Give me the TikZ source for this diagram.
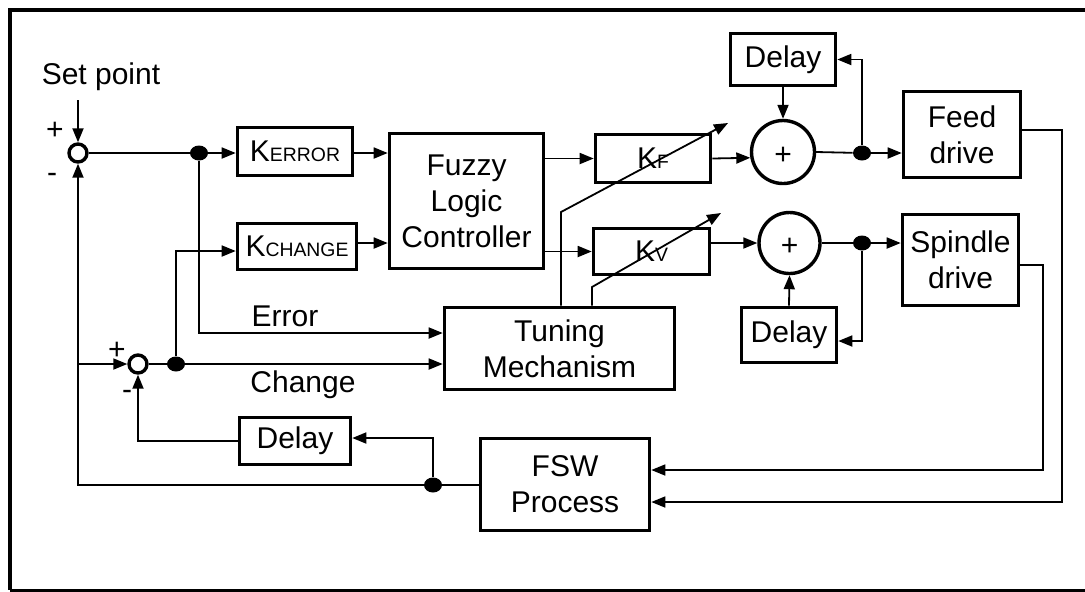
\documentclass[tikz,border=0pt]{standalone}
\usepackage{fontspec}
\setmainfont{Liberation Sans}
\usetikzlibrary{arrows.meta,shapes.geometric}
% small-caps style subscript for the gain names
\newcommand\kidx[1]{{\fontsize{9.7}{11}\selectfont #1}}
\begin{document}
\begin{tikzpicture}[x=0.5pt,y=-0.5pt,
  font=\fontsize{15}{18}\selectfont,
  blk/.style={draw,line width=1.8pt,inner sep=0pt,align=center},
  sumc/.style={draw,circle,line width=1.7pt,inner sep=0pt},
  dot/.style={fill,ellipse,inner sep=0pt,minimum width=9pt,minimum height=7.5pt},
  wire/.style={line width=0.9pt},
  arr/.style={wire,-{Triangle[length=7pt,width=5.5pt]}}]
\useasboundingbox (0,0) rectangle (1085,591);

% frame
\draw[line width=2pt] (1085,10) -- (10,10) -- (10,590);
\draw[line width=1.5pt] (10,590) -- (1085,590);

% blocks
\node[blk,minimum width=57.5pt,minimum height=24pt] (ke) at (295,151.5) {K\kidx{ERROR}};
\node[blk,minimum width=59.5pt,minimum height=23pt] (kc) at (297,246.5) {K\kidx{CHANGE}};
\node[blk,minimum width=77pt,minimum height=67.5pt] (flc) at (466.5,201) {Fuzzy\\Logic\\Controller};
\node[blk,minimum width=57.5pt,minimum height=24pt] (kf) at (653,158.5) {K\kidx{F}};
\node[blk,minimum width=58pt,minimum height=23pt] (kv) at (651.5,251.5) {K\kidx{V}};
\node[blk,minimum width=115pt,minimum height=41pt] (tm) at (559.5,348.5) {Tuning\\Mechanism};
\node[blk,minimum width=52.5pt,minimum height=26pt] (d1) at (783,59.5) {Delay};
\node[blk,minimum width=58.5pt,minimum height=43pt] (fd) at (962,134.5) {Feed\\drive};
\node[blk,minimum width=58pt,minimum height=45.5pt] (sd) at (960.5,260) {Spindle\\drive};
\node[blk,minimum width=47.5pt,minimum height=27.5pt] (d2) at (789,335) {Delay};
\node[blk,minimum width=55.5pt,minimum height=23.5pt] (d3) at (295,441) {Delay};
\node[blk,minimum width=84.5pt,minimum height=46pt] (fsw) at (565,484.5) {FSW\\Process};

% summing junctions
\node[sumc,minimum size=9pt] (s1) at (78,153) {};
\node[sumc,minimum size=9pt] (s2) at (138,364) {};
\node[sumc,minimum size=31.5pt] (p1) at (783,152) {};
\node[sumc,minimum size=30.5pt] (p2) at (789.5,243) {};
\node (p1sign) at (783,156) {+};
\node (p2sign) at (789.5,247) {+};

% branch points
\node[dot] (dA) at (199,153) {};
\node[dot] (dB) at (176,364) {};
\node[dot] (dC) at (862,153) {};
\node[dot] (dD) at (862,243) {};
\node[dot] (dE) at (433,485) {};

% labels
\node (sptxt) at (101,77) {Set point};
\node (pl1) at (55,131) {+};
\node (mi1) at (52,178) {-};
\node (pl2) at (117,351) {+};
\node (mi2) at (127,395) {-};
\node (err) at (285,316) {Error};
\node (chg) at (303,385) {Change};

% error path
\coordinate (spin) at (78,100);
\draw[arr] (spin) -- (s1.north);
\draw[wire] (s1.east) -- (dA);
\draw[arr] (dA) -- (dA -| ke.west);
\draw[arr] (ke.east |- dA) -- (dA -| flc.west);
\coordinate (erry) at (0,333);
\draw[arr] (dA) |- (tm.west |- erry);

% change path
\draw[wire] (s2.east) -- (dB);
\draw[arr] (dB) -- (dB -| tm.west);
\coordinate (kcy) at (0,251);
\draw[arr] (dB) |- (kc.west |- kcy);
\coordinate (kcoy) at (0,243);
\draw[arr] (kc.east |- kcoy) -- (flc.west |- kcoy);

% controller outputs
\draw[arr] (flc.east |- kf.west) -- (kf.west);
\draw[arr] (flc.east |- kv.west) -- (kv.west);
\draw[arr] (kf.east) -- (p1.190);
\draw[arr] (kv.east |- p2.west) -- (p2.west);

% feed channel
\draw[arr] (d1.south) -- (p1.north);
\draw[wire] (p1.east) -- (dC);
\draw[arr] (dC) -- (dC -| fd.west);
\draw[arr] (dC) |- (d1.east);

% spindle channel
\draw[wire] (p2.east) -- (dD);
\draw[arr] (dD) -- (dD -| sd.west);
\coordinate (d2y) at (0,341);
\draw[arr] (dD) |- (d2.east |- d2y);
\draw[arr] (d2.north) -- (p2.south);

% drives into the process
\coordinate (fr) at (1062,130);
\coordinate (frb) at (1062,502);
\draw[arr,line width=0.8pt] (fd.east |- fr) -- (fr) -- (frb) -- (fsw.east |- frb);
\coordinate (sr) at (1043,265);
\coordinate (srb) at (1043,470);
\draw[arr,line width=0.8pt] (sd.east |- sr) -- (sr) -- (srb) -- (fsw.east |- srb);

% process feedback
\coordinate (fb) at (78,485);
\draw[wire] (fsw.west |- dE) -- (dE);
\draw[arr] (dE) -- (fb) -- (s1.south);
\coordinate (d3y) at (0,438);
\draw[arr] (dE) |- (d3.east |- d3y);
\coordinate (jn) at (78,364);
\draw[arr] (jn) -- (s2.west);
\draw[arr] (d3.west) -| (s2.south);

% tuning adjustments of the gains
\coordinate (t1a) at (561,212);
\coordinate (t1b) at (728,123);
\draw[arr] (tm.north -| t1a) -- (t1a) -- (t1b);
\coordinate (t2a) at (592,287);
\coordinate (t2b) at (721,213);
\draw[arr] (tm.north -| t2a) -- (t2a) -- (t2b);
\end{tikzpicture}
\end{document}
